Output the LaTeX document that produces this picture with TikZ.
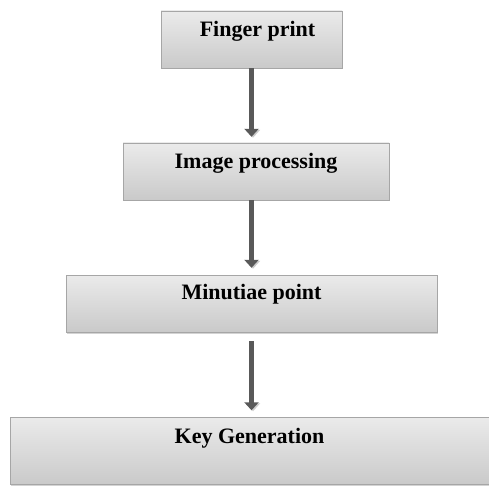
\documentclass[tikz,border=0pt]{standalone}
\usepackage{fontspec}
\setmainfont{Liberation Serif}
\usetikzlibrary{arrows.meta,shadows}

\tikzset{
    stagebox/.style={rectangle, draw=gray!70, top color=gray!16, bottom color=gray!42,
        inner sep=0pt, text height=26pt, text depth=31pt,
        font=\fontsize{22}{25}\selectfont\bfseries,
        drop shadow={opacity=0.35, shadow xshift=1.2pt, shadow yshift=-1.5pt}},
    flowarrow/.style={line width=5pt, draw=black!65,
        -{Triangle[width=14pt,length=8pt]},
        preaction={draw=black!20, transform canvas={xshift=1.5pt,yshift=-1pt}}}
}

\begin{document}
\begin{tikzpicture}[x=1pt,y=-1pt]
    \useasboundingbox (0,0) rectangle (489,486);
    \node[stagebox, minimum width=181pt] (fprint) at (251.5,39.5) {\hspace*{12pt}Finger print};
    \node[stagebox, minimum width=266pt] (improc) at (256,171.5) {Image processing};
    \node[stagebox, minimum width=371pt, text height=24pt, text depth=33pt] (minpt) at (251.5,303.5) {Minutiae point};
    \node[stagebox, minimum width=479pt, text depth=41pt] (keygen) at (249.5,451) {Key Generation};
    \draw[flowarrow, shorten >=6pt] (fprint.south) -- (fprint.south |- improc.north);
    \draw[flowarrow, shorten >=7pt] (improc.south -| fprint.south) -- (minpt.north -| fprint.south);
    \draw[flowarrow, shorten <=9pt, shorten >=7pt] (minpt.south -| fprint.south) -- (keygen.north -| fprint.south);
\end{tikzpicture}
\end{document}
